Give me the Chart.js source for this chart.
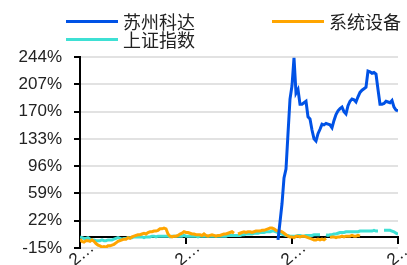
<!DOCTYPE html>
<html>
<head>
<meta charset="utf-8">
<script src="https://cdn.jsdelivr.net/npm/chart.js@4.4.1/dist/chart.umd.min.js"></script>
<style>
  html, body { margin: 0; padding: 0; background: #fff; }
  #wrap { position: relative; width: 407px; height: 265px; overflow: hidden; }
  #legend { position: absolute; left: 0; top: 0; width: 407px; height: 50px; font-family: "Noto Sans CJK SC", sans-serif; font-size: 18px; color: #222; }
  .item { position: absolute; display: flex; align-items: center; height: 20px; line-height: 20px; white-space: nowrap; }
  .swatch { width: 52px; height: 3px; margin-right: 5px; }
</style>
</head>
<body>
<div id="wrap">
  <canvas id="c" width="407" height="265"></canvas>
  <div id="legend"></div>
</div>
<script>
const seriesNames = ['苏州科达', '系统设备', '上证指数'];
const seriesColors = ['#0052e6', '#ffa500', '#3ee0d4'];
const tickLabels = ['2…', '2…', '2…', '2…'];
const yTicks = [-15, 22, 59, 96, 133, 170, 207, 244];

const suzhou = [
  null,null,null,null,null,null,null,null,null,null, null,null,null,null,null,null,null,null,null,null,
  null,null,null,null,null,null,null,null,null,null, null,null,null,null,null,null,null,null,null,null,
  null,null,null,null,null,null,null,null,null,null, null,null,null,null,null,null,null,null,null,null,
  null,null,null,null,null,null,null,null,null,null, null,null,null,null,null,null,null,null,null,null,
  null,null,null,null,null,null,null,null,null,null, null,null,null,null,null,null,null,null,null,-4,
  20,45,80,92,140,187,205,243,195,200, 180,180,182,184,163,160,145,133,130,140,
  146,153,152,154,153,152,148,158,166,171, 174,176,170,167,178,184,187,186,183,190,
  196,199,201,203,225,224,222,223,221,200, 180,180,181,184,183,182,185,176,172,171
];
const xitong = [
  -3,-6,-7,-5,-5,-6,-4,-6,-9,-11, -12,-14,-13,-14,-12,-12,-11,-10,-8,-6,
  -5,-4,-3,-3,-1,-2,0,1,2,3, 3,4,5,4,6,7,7,8,8,9,
  11,11,12,11,4,1,0,1,1,2, 4,5,7,6,6,5,4,4,3,3,
  3,2,4,2,1,2,3,2,1,2, 2,3,4,4,5,6,7,5,null,4,
  5,6,7,6,7,7,6,7,8,8, 8,9,9,10,11,12,12,11,9,8,
  8,7,5,3,1,0,0,-1,1,1, 0,1,1,0,-1,-2,-3,-4,-4,-3,
  -4,-3,-4,-2,null,-1,0,0,-1,0, 0,1,0,1,1,1,2,1,1,2,
  1,null,null,null,null,null,null,null,null,null, null,null,null,null,null,null,null,null,null,null
];
const shangzheng = [
  0,-1,-2,-2,-1,-3,-4,-4,-5,-5, -5,-4,-5,-5,-4,-4,-4,-3,-2,-1,
  -2,-3,-2,-2,-1,-1,-1,0,0,0, 0,0,-1,0,0,0,1,1,0,1,
  1,1,1,1,1,0,1,1,1,1, 1,1,2,1,1,1,1,1,1,0,
  1,1,1,1,1,1,1,1,1,1, 1,1,1,1,2,2,2,2,2,2,
  2,3,3,4,4,4,4,5,5,5, 6,6,6,7,7,7,8,8,7,6,
  5,4,3,2,2,1,1,1,1,2, 2,1,1,2,2,2,2,3,3,3,
  3,null,null,3,2,3,3,4,4,5, 6,6,6,7,7,7,7,7,7,7,
  8,8,8,8,8,8,8,9,8,8, null,null,9,9,9,9,8,7,5,4
];
const seriesValues = [suzhou, xitong, shangzheng];

const toPoints = arr => arr.map((v, i) => ({ x: i, y: v }));

const datasets = seriesNames.map((name, k) => ({
  label: name,
  data: toPoints(seriesValues[k]),
  borderColor: seriesColors[k],
  backgroundColor: seriesColors[k],
  borderWidth: 3,
  pointRadius: 0,
  tension: 0,
  spanGaps: false,
  fill: false
}));

// HTML legend built from dataset names/colours
const legendPos = [[66, 11], [272, 11], [66, 29]];
const legendEl = document.getElementById('legend');
seriesNames.forEach((name, k) => {
  const it = document.createElement('div');
  it.className = 'item';
  it.style.left = legendPos[k][0] + 'px';
  it.style.top = legendPos[k][1] + 'px';
  const sw = document.createElement('span');
  sw.className = 'swatch';
  sw.style.background = seriesColors[k];
  const tx = document.createElement('span');
  tx.textContent = name;
  it.appendChild(sw);
  it.appendChild(tx);
  legendEl.appendChild(it);
});

const lastIndex = suzhou.length - 1;

new Chart(document.getElementById('c'), {
  type: 'line',
  data: { datasets },
  options: {
    responsive: false,
    devicePixelRatio: 1,
    animation: false,
    layout: { padding: { left: 0, top: 57, right: 9, bottom: 17 } },
    plugins: { legend: { display: false }, tooltip: { enabled: false } },
    scales: {
      x: {
        type: 'linear',
        min: 0,
        max: lastIndex,
        position: { y: 0 },
        afterFit: s => { s.height = 0; },
        ticks: {
          stepSize: lastIndex / (tickLabels.length - 1),
          callback: (v, i) => tickLabels[i],
          minRotation: 40,
          maxRotation: 40,
          autoSkip: false,
          labelOffset: 12,
          padding: -5,
          color: '#222',
          font: { family: 'Liberation Sans, Arial, sans-serif', size: 17 }
        },
        grid: { display: true, drawOnChartArea: false, tickLength: 6, tickColor: '#000', lineWidth: 2 },
        border: { display: true, color: '#000', width: 2 }
      },
      y: {
        min: yTicks[0],
        max: yTicks[yTicks.length - 1],
        afterFit: s => { s.width = 80; s.paddingTop = 0; s.paddingBottom = 0; },
        ticks: {
          stepSize: yTicks[1] - yTicks[0],
          callback: v => v + '%',
          padding: 12,
          color: '#222',
          font: { family: 'Liberation Sans, Arial, sans-serif', size: 17 }
        },
        grid: { color: '#e2e2e2', lineWidth: 2, tickLength: 6, tickColor: '#000', tickWidth: 2 },
        border: { display: true, color: '#000', width: 2 }
      }
    }
  }
});
</script>
</body>
</html>
